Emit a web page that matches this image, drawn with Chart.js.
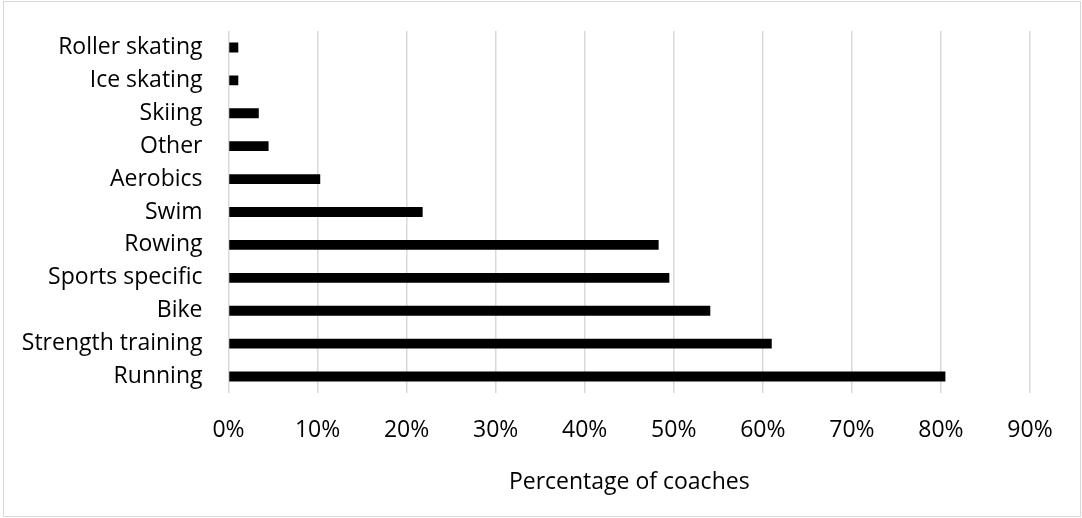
<!DOCTYPE html>
<html>
<head>
<meta charset="utf-8">
<title>Training modes used by coaches</title>
<script src="https://cdn.jsdelivr.net/npm/chart.js@4.4.1/dist/chart.umd.min.js"></script>
<style>
  html, body { margin: 0; padding: 0; background: #ffffff; }
  #wrap { position: relative; width: 1082px; height: 518px; }
  #frame {
    position: absolute; left: 3px; top: 1px; width: 1076px; height: 514px;
    border: 1px solid #d9d9d9; pointer-events: none;
  }
  canvas { display: block; }
</style>
</head>
<body>
<div id="wrap">
  <canvas id="chart" width="1082" height="518"></canvas>
  <div id="frame"></div>
</div>
<script>
// Training modes, listed top to bottom
const categories = [
  'Roller skating', 'Ice skating', 'Skiing', 'Other', 'Aerobics', 'Swim',
  'Rowing', 'Sports specific', 'Bike', 'Strength training', 'Running'
];
// Share of coaches using each mode (fraction of 1)
const shareOfCoaches = [
  0.011, 0.011, 0.034, 0.045, 0.103, 0.218,
  0.483, 0.495, 0.541, 0.610, 0.805
];
// Axis ticks, 0% to 90%
const tickValues = [0, 0.1, 0.2, 0.3, 0.4, 0.5, 0.6, 0.7, 0.8, 0.9];
const axisTitle = 'Percentage of coaches';

const FONT = '"Open Sans", "Noto Sans", sans-serif';

// Pin the plot area so the value axis spans x 228.5..1030 and the rows y 31..393
const plotTop = 31;
const plotBottom = 393;

new Chart(document.getElementById('chart'), {
  type: 'bar',
  data: {
    labels: categories,
    datasets: [{
      data: shareOfCoaches,
      backgroundColor: '#000000',
      borderWidth: 0,
      categoryPercentage: 1,
      barPercentage: 0.3
    }]
  },
  options: {
    indexAxis: 'y',
    responsive: false,
    animation: false,
    events: [],
    layout: { padding: { left: 0, right: 52, top: plotTop, bottom: 0 } },
    plugins: {
      legend: { display: false },
      tooltip: { enabled: false }
    },
    scales: {
      x: {
        min: tickValues[0],
        max: tickValues[tickValues.length - 1],
        afterBuildTicks: (scale) => { scale.ticks = tickValues.map(v => ({ value: v })); },
        afterFit: (scale) => { scale.height = 518 - plotBottom; },
        grid: { color: '#d9d9d9', lineWidth: 1.5, drawTicks: false },
        border: { display: false },
        ticks: {
          padding: 24,
          color: '#000000',
          font: { family: FONT, size: 23 },
          callback: (v) => Math.round(v * 100) + '%'
        },
        title: {
          display: true,
          text: axisTitle,
          color: '#000000',
          font: { family: FONT, size: 23 },
          padding: { top: 22, bottom: 22 }
        }
      },
      y: {
        afterFit: (scale) => {
          scale.width = 228.5;
          scale.paddingTop = 0;
          scale.paddingBottom = 0;
        },
        grid: { display: false, drawTicks: false },
        border: { display: false },
        ticks: {
          padding: 26,
          color: '#000000',
          font: { family: FONT, size: 23 }
        }
      }
    }
  }
});
</script>
</body>
</html>
